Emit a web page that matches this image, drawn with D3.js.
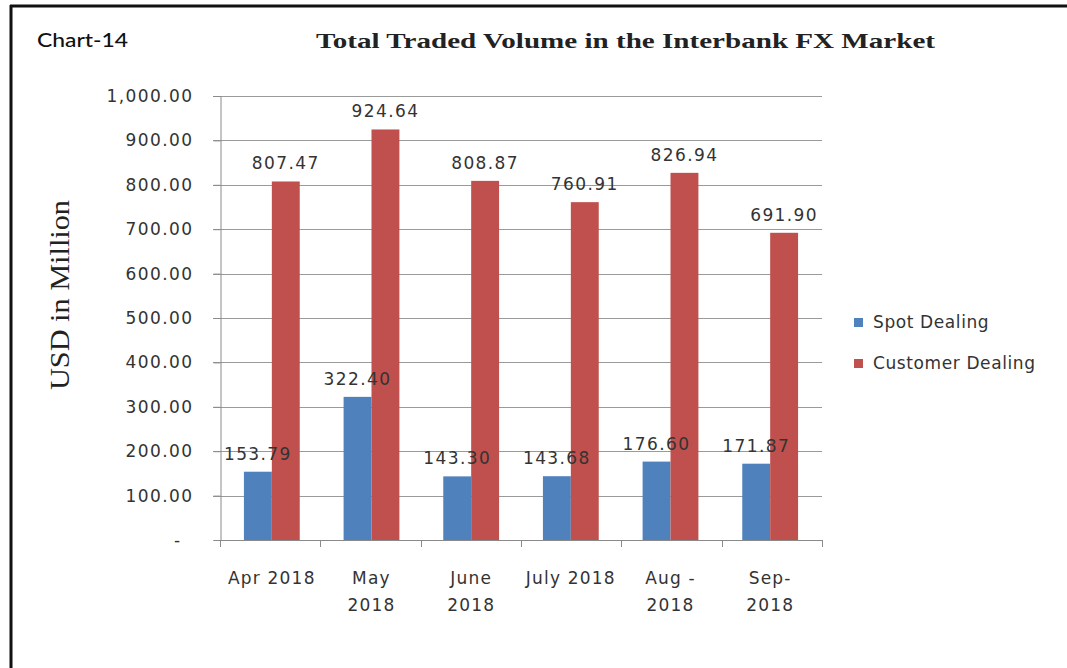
<!DOCTYPE html>
<html><head><meta charset="utf-8">
<script src="https://cdn.jsdelivr.net/npm/d3@7"></script>
<style>body{margin:0;background:#fff}svg{display:block}</style>
</head><body>
<svg id="c" width="1067" height="668"></svg>
<script>
const categories = [["Apr 2018"], ["May", "2018"], ["June", "2018"], ["July 2018"], ["Aug -", "2018"], ["Sep-", "2018"]];
const seriesNames = ["Spot Dealing", "Customer Dealing"];
const spotDealing = [153.79, 322.40, 143.30, 143.68, 176.60, 171.87];
const customerDealing = [807.47, 924.64, 808.87, 760.91, 826.94, 691.90];
const yTicks = [0, 100, 200, 300, 400, 500, 600, 700, 800, 900, 1000];
const colors = ["#4F81BD", "#C0504D"];

const svg = d3.select("#c");
const numFont = "DejaVu Sans, Verdana, sans-serif";

// frame
svg.append("line").attr("x1", 10).attr("x2", 1067).attr("y1", 6).attr("y2", 6).attr("stroke", "#111").attr("stroke-width", 3);
svg.append("line").attr("x1", 11).attr("x2", 11).attr("y1", 5).attr("y2", 668).attr("stroke", "#111").attr("stroke-width", 3);

const y = d3.scaleLinear().domain([0, 1000]).range([540, 96]);
const x = d3.scaleBand().domain(d3.range(categories.length)).range([220, 822]).paddingInner(0.44).paddingOuter(0.24);
const xs = d3.scaleBand().domain([0, 1]).range([0, x.bandwidth()]);
const xb = d3.scaleLinear().domain([0, categories.length]).range([220, 822]);

// gridlines
svg.append("g").selectAll("line").data(yTicks.filter(d => d > 0)).join("line")
  .attr("x1", 213).attr("x2", 822).attr("y1", d => Math.round(y(d)) + 0.5).attr("y2", d => Math.round(y(d)) + 0.5)
  .attr("stroke", "#9a9a9a").attr("stroke-width", 1);

// y axis
const yAxis = d3.axisLeft(y).tickValues(yTicks).tickSize(7).tickPadding(20)
  .tickFormat(d => d === 0 ? "-" : d3.format(",.2f")(d));
const ga = svg.append("g").attr("transform", "translate(220.5,0)").call(yAxis);
ga.select(".domain").attr("stroke", "#8a8a8a");
ga.selectAll(".tick line").attr("stroke", "#8a8a8a");
ga.selectAll(".tick text").attr("font-family", numFont).attr("font-size", 17).attr("letter-spacing", 1.4).attr("fill", "#333")
  .attr("dx", d => d === 0 ? -12 : 0);

// x axis baseline and ticks
const bounds = d3.range(categories.length + 1).map(i => xb(i));
svg.append("line").attr("x1", 220).attr("x2", 822).attr("y1", 540.5).attr("y2", 540.5).attr("stroke", "#8a8a8a");
svg.append("g").selectAll("line").data(bounds).join("line")
  .attr("x1", d => Math.round(d) + 0.5).attr("x2", d => Math.round(d) + 0.5).attr("y1", 540).attr("y2", 547).attr("stroke", "#8a8a8a");

// x labels
const xl = svg.append("g").selectAll("text").data(categories).join("text")
  .attr("x", (d, i) => x(i) + x.bandwidth() / 2).attr("y", 584)
  .attr("text-anchor", "middle").attr("font-family", numFont).attr("font-size", 17).attr("letter-spacing", 1.2).attr("fill", "#333");
xl.selectAll("tspan").data(d => d).join("tspan")
  .attr("x", function() { return d3.select(this.parentNode).attr("x"); })
  .attr("dy", (d, j) => j === 0 ? 0 : 27).text(d => d);

// bars
const series = [spotDealing, customerDealing];
series.forEach((vals, s) => {
  svg.append("g").selectAll("rect").data(vals).join("rect")
    .attr("x", (d, i) => x(i) + xs(s)).attr("width", xs.bandwidth())
    .attr("y", d => y(d)).attr("height", d => y(0) - y(d)).attr("fill", colors[s]);
});
// data labels (on top of all bars)
series.forEach((vals, s) => {
  svg.append("g").selectAll("text").data(vals).join("text")
    .attr("x", (d, i) => x(i) + xs(s) + xs.bandwidth() / 2).attr("y", d => y(d) - 12)
    .attr("text-anchor", "middle").attr("font-family", numFont).attr("font-size", 17).attr("letter-spacing", 1.4).attr("fill", "#333")
    .text(d => d3.format(".2f")(d));
});

// legend
const lg = svg.append("g").selectAll("g").data(seriesNames).join("g")
  .attr("transform", (d, i) => `translate(854,${318 + i * 41})`);
lg.append("rect").attr("width", 9).attr("height", 9).attr("fill", (d, i) => colors[i]);
lg.append("text").attr("x", 19).attr("y", 10).attr("font-family", numFont).attr("font-size", 17).attr("letter-spacing", 0.6)
  .attr("fill", "#333").text(d => d);

// titles
svg.append("text").attr("x", 316).attr("y", 48).attr("font-family", "Liberation Serif, Times New Roman, serif")
  .attr("font-weight", "bold").attr("font-size", 22).attr("textLength", 619).attr("lengthAdjust", "spacingAndGlyphs")
  .attr("fill", "#222").text("Total Traded Volume in the Interbank FX Market");
svg.append("text").attr("x", 37).attr("y", 47).attr("font-family", "Lato, Open Sans, sans-serif")
  .attr("font-size", 20).attr("font-weight", 500).attr("textLength", 91).attr("lengthAdjust", "spacingAndGlyphs")
  .attr("fill", "#111").text("Chart-14");
svg.append("text").attr("transform", "translate(69,295) rotate(-90)").attr("text-anchor", "middle")
  .attr("font-family", "Liberation Serif, Times New Roman, serif").attr("font-size", 27)
  .attr("textLength", 190).attr("lengthAdjust", "spacingAndGlyphs").attr("fill", "#222").text("USD in Million");
</script>
</body></html>
